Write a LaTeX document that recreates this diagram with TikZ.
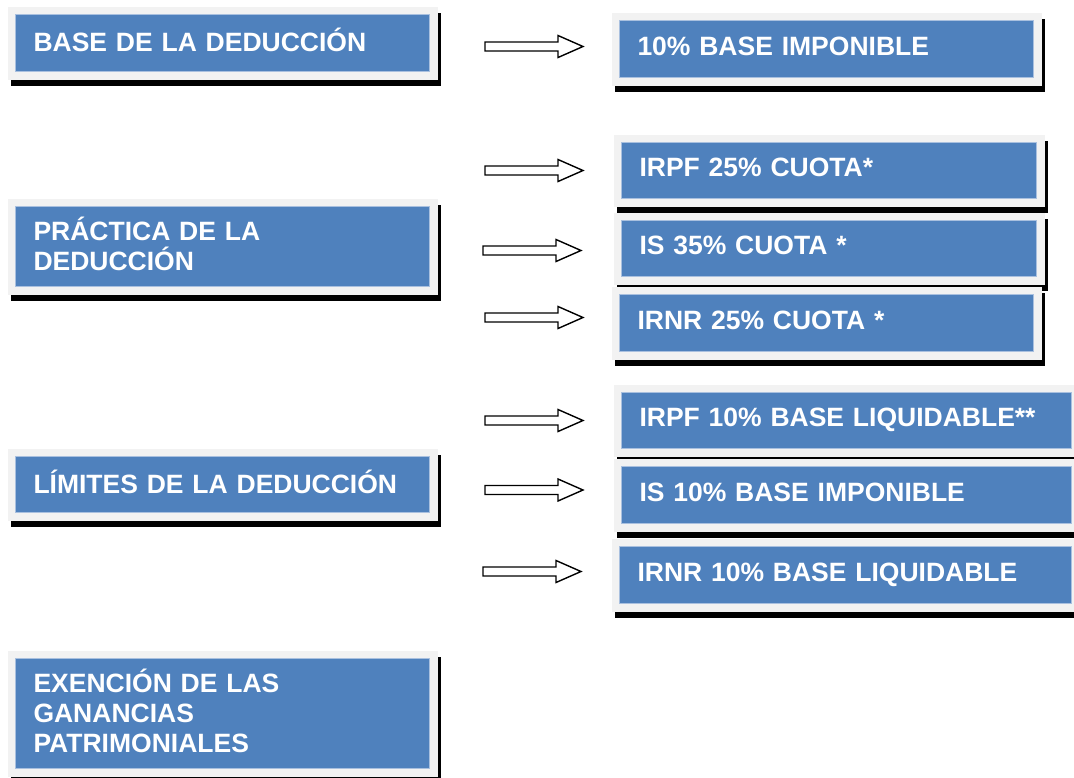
\documentclass[tikz,border=0pt]{standalone}
\usepackage{fontspec}
\setmainfont{Liberation Sans}
\usepackage{tikz}
\usetikzlibrary{positioning}
\definecolor{boxblue}{HTML}{4F81BD}
\definecolor{boxline}{HTML}{A9C0DF}
\definecolor{boxframe}{HTML}{F2F2F2}

\begin{document}
\begin{tikzpicture}[x=1pt,y=-1pt,
  bluebox/.style={anchor=north west, rectangle, fill=boxblue, draw=boxline, line width=1pt,
    text=white, font=\fontsize{26.5}{30}\selectfont\bfseries, align=left,
    inner xsep=18pt, inner ysep=0pt,
    execute at end node={\rule[-6pt]{0pt}{6pt}},
    preaction={draw=black, fill=black, line width=16pt, transform canvas={shift={(3pt,-6pt)}}},
    preaction={draw=boxframe, fill=boxframe, line width=16pt}},
  blockarrow/.style={draw=black, fill=white, line width=1.4pt, line join=miter}]
\useasboundingbox (0,0) rectangle (1074,777);
\node[bluebox, text width=378pt, minimum height=57pt] (base) at (15,14) {BASE DE LA DEDUCCIÓN};
\node[bluebox, text width=378pt, minimum height=80pt] (practica) at (15,206) {PRÁCTICA DE LA\\DEDUCCIÓN};
\node[bluebox, text width=378pt, minimum height=56pt] (limites) at (15,456) {LÍMITES DE LA DEDUCCIÓN};
\node[bluebox, text width=378pt, minimum height=110pt] (exencion) at (15,658) {EXENCIÓN DE LAS\\GANANCIAS\\PATRIMONIALES};
\node[bluebox, text width=378pt, minimum height=57pt] (baseimp) at (619,20) {10\% BASE IMPONIBLE};
\node[bluebox, text width=379pt, minimum height=56pt] (irpfcuota) at (621,142) {IRPF 25\% CUOTA*};
\node[bluebox, text width=379pt, minimum height=56pt] (iscuota) at (621,220) {IS 35\% CUOTA *};
\node[bluebox, text width=378pt, minimum height=57pt] (irnrcuota) at (619,294) {IRNR 25\% CUOTA *};
\node[bluebox, text width=414pt, minimum height=56pt] (irpfbase) at (621,392) {IRPF 10\% BASE LIQUIDABLE**};
\node[bluebox, text width=414pt, minimum height=57pt] (isbase) at (621,466) {IS 10\% BASE IMPONIBLE};
\node[bluebox, text width=416pt, minimum height=57pt] (irnrbase) at (619,546) {IRNR 10\% BASE LIQUIDABLE};
\foreach \ax/\ay in {485/46.5, 485/170.5, 483/250.5, 485/317.5, 485/420.5, 485/490, 483/571.5}
  \draw[blockarrow] (\ax,\ay-4.5) -- ++(73,0) -- ++(0,-6.5) -- ++(25,11) -- ++(-25,11)
    -- ++(0,-6.5) -- ++(-73,0) -- cycle;
\end{tikzpicture}
\end{document}
